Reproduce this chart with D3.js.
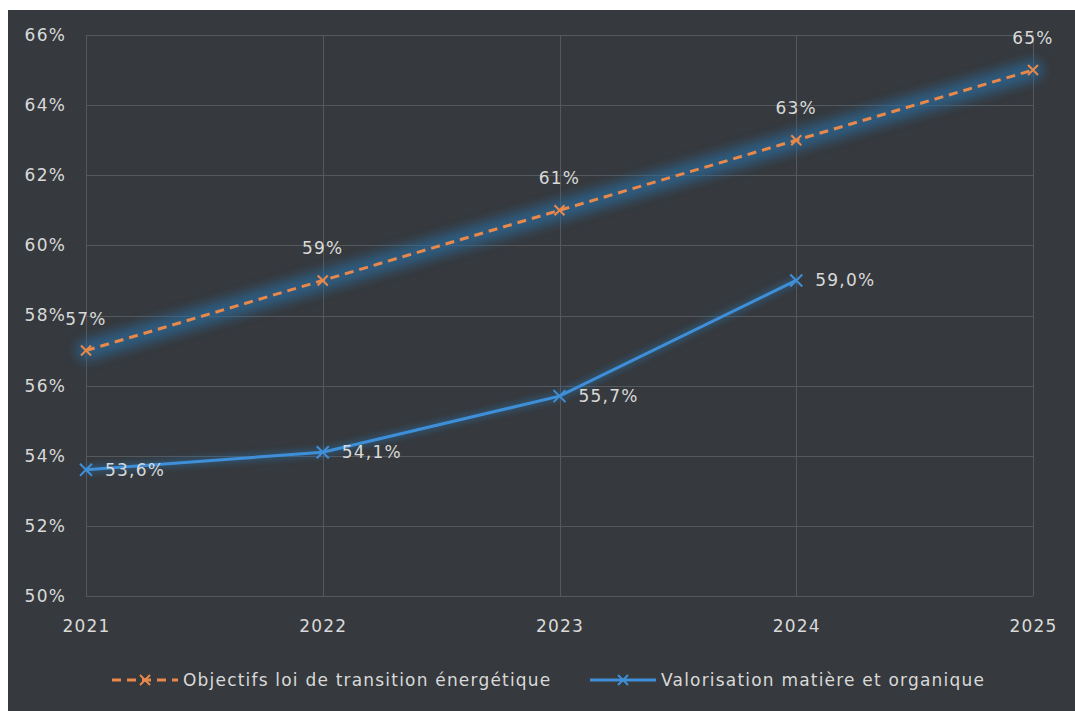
<!DOCTYPE html>
<html>
<head>
<meta charset="utf-8">
<script src="https://cdn.jsdelivr.net/npm/d3@7"></script>
<style>
  body { margin: 0; background: #ffffff; }
  svg text { font-family: "DejaVu Sans", sans-serif; letter-spacing: 1.2px; }
</style>
</head>
<body>
<svg id="chart" width="1075" height="711"></svg>
<script>
const years = [2021, 2022, 2023, 2024, 2025];
const objectifs = [57, 59, 61, 63, 65];
const valorisation = [53.6, 54.1, 55.7, 59.0];
const yTicks = [50, 52, 54, 56, 58, 60, 62, 64, 66];
const seriesNames = ["Objectifs loi de transition énergétique", "Valorisation matière et organique"];

const W = 1075, H = 711;
const margin = { left: 86, right: 42, top: 35, bottom: 115 };
const fs = 17;

const svg = d3.select("#chart");

// dark panel, thin white border top/left like the screenshot
svg.append("rect").attr("x", 8).attr("y", 10).attr("width", W - 8).attr("height", H - 10)
    .attr("fill", "#36393d");

const x = d3.scalePoint().domain(years).range([margin.left, W - margin.right]);
const y = d3.scaleLinear().domain([50, 66]).range([H - margin.bottom, margin.top]);

const defs = svg.append("defs");
defs.append("filter").attr("id", "glow").attr("x", "-10%").attr("y", "-50%").attr("width", "120%").attr("height", "200%")
    .append("feGaussianBlur").attr("stdDeviation", 6);
defs.append("filter").attr("id", "glowSmall").attr("x", "-10%").attr("y", "-50%").attr("width", "120%").attr("height", "200%")
    .append("feGaussianBlur").attr("stdDeviation", 3);

// grid
const grid = svg.append("g").attr("stroke", "#55595e").attr("stroke-width", 1);
grid.selectAll("line.h").data(yTicks).join("line")
    .attr("x1", margin.left).attr("x2", W - margin.right)
    .attr("y1", d => Math.round(y(d)) + 0.5).attr("y2", d => Math.round(y(d)) + 0.5);
grid.selectAll("line.v").data(years).join("line")
    .attr("x1", d => Math.round(x(d)) + 0.5).attr("x2", d => Math.round(x(d)) + 0.5)
    .attr("y1", margin.top).attr("y2", H - margin.bottom);

// axes, labels only
const yAxis = svg.append("g").attr("transform", `translate(${margin.left},0)`)
    .call(d3.axisLeft(y).tickValues(yTicks).tickFormat(d => d + "%").tickSize(0).tickPadding(20));
const xAxis = svg.append("g").attr("transform", `translate(0,${H - margin.bottom})`)
    .call(d3.axisBottom(x).tickSize(0).tickPadding(24));
[yAxis, xAxis].forEach(a => {
    a.select(".domain").remove();
    a.selectAll("text").attr("fill", "#d9d9d9").attr("font-size", fs)
        .attr("font-family", "DejaVu Sans, sans-serif");
});

const line = d3.line().x((d, i) => x(years[i])).y(d => y(d));

const orange = "#e8884a";
const blue = "#3f8fd8";
const glowBlue = "#2a6c9f";

function cross(g, cx, cy, color, r) {
    g.append("path")
        .attr("d", `M${cx - r},${cy - r}L${cx + r},${cy + r}M${cx - r},${cy + r}L${cx + r},${cy - r}`)
        .attr("stroke", color).attr("stroke-width", 2).attr("fill", "none");
}

// objectifs: blue glow under the orange dashed line
svg.append("path").datum(objectifs).attr("d", line)
    .attr("fill", "none").attr("stroke", glowBlue).attr("stroke-width", 20).attr("opacity", 0.7)
    .attr("stroke-linecap", "round").attr("filter", "url(#glow)");
svg.append("path").datum(objectifs).attr("d", line)
    .attr("fill", "none").attr("stroke", orange).attr("stroke-width", 3)
    .attr("stroke-dasharray", "9,6");
const om = svg.append("g");
objectifs.forEach((v, i) => cross(om, x(years[i]), y(v), orange, 5));

// valorisation
svg.append("path").datum(valorisation).attr("d", line)
    .attr("fill", "none").attr("stroke", glowBlue).attr("stroke-width", 8).attr("opacity", 0.5)
    .attr("filter", "url(#glowSmall)");
svg.append("path").datum(valorisation).attr("d", line)
    .attr("fill", "none").attr("stroke", blue).attr("stroke-width", 3);
const vm = svg.append("g");
valorisation.forEach((v, i) => cross(vm, x(years[i]), y(v), blue, 6));

// data labels
const fmt = v => v.toFixed(1).replace(".", ",") + "%";
svg.append("g").selectAll("text").data(objectifs).join("text")
    .attr("x", (d, i) => x(years[i])).attr("y", d => y(d) - 26)
    .attr("text-anchor", "middle").attr("fill", "#d9d9d9").attr("font-size", fs)
    .text(d => d + "%");
svg.append("g").selectAll("text").data(valorisation).join("text")
    .attr("x", (d, i) => x(years[i]) + 19).attr("y", d => y(d) + 6)
    .attr("fill", "#d9d9d9").attr("font-size", fs)
    .text(fmt);

// legend
const legY = 680;
const leg = svg.append("g");
leg.append("line").attr("x1", 112).attr("x2", 178).attr("y1", legY).attr("y2", legY)
    .attr("stroke", orange).attr("stroke-width", 3).attr("stroke-dasharray", "9,6");
cross(leg, 145, legY, orange, 5);
leg.append("text").attr("x", 183).attr("y", legY + 6).attr("fill", "#d9d9d9").attr("font-size", fs)
    .text(seriesNames[0]);
leg.append("line").attr("x1", 590).attr("x2", 656).attr("y1", legY).attr("y2", legY)
    .attr("stroke", blue).attr("stroke-width", 3);
cross(leg, 623, legY, blue, 5);
leg.append("text").attr("x", 661).attr("y", legY + 6).attr("fill", "#d9d9d9").attr("font-size", fs)
    .text(seriesNames[1]);
</script>
</body>
</html>
